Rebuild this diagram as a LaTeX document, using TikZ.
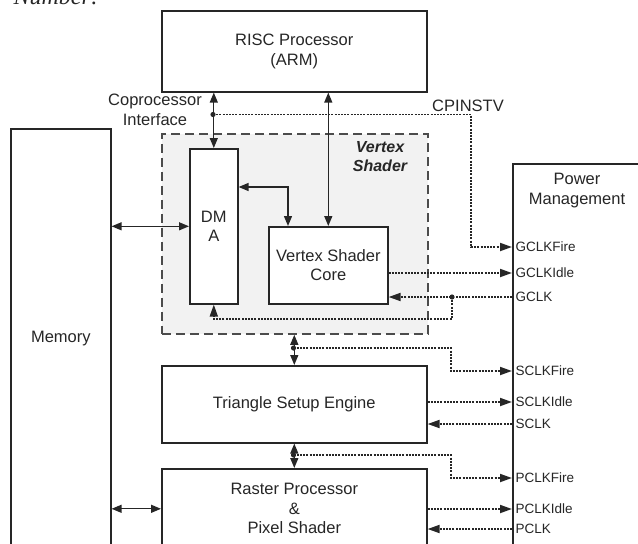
\documentclass[tikz,border=0pt]{standalone}
\usepackage{fontspec}
\setmainfont{Liberation Sans}
\newfontfamily\numfont{Liberation Serif}
\usetikzlibrary{arrows.meta}

\begin{document}
\begin{tikzpicture}[x=1pt,y=-1pt,
  font=\fontsize{16.5}{19.5}\selectfont, text=black!85,
  box/.style={draw=black!85, line width=1.6pt, fill=white, inner sep=0pt, anchor=north west, align=center},
  bus/.style={{Triangle[length=10pt,width=8pt]}-{Triangle[length=10pt,width=8pt]}, line width=1.3pt, draw=black!85},
  sig/.style={-{Triangle[length=12pt,width=8pt]}, line width=1.8pt, draw=black!85, dash pattern=on 2pt off 1.2pt},
  pin/.style={anchor=west, font=\fontsize{13.5}{16}\selectfont}]
\useasboundingbox (0,0) rectangle (638,544);

\node[anchor=base west, font=\numfont\itshape\fontsize{24}{24}\selectfont] (num) at (10,4) {Number:};

% blocks
\node[draw=black!70, line width=1.8pt, dash pattern=on 9pt off 5pt, fill=gray!10,
  minimum width=266, minimum height=200, anchor=north west] (vs) at (161,133) {};
\node[font=\fontsize{16}{19}\selectfont\bfseries\itshape, align=center] (vst) at (380,156.5) {Vertex\\Shader};
\node[box, minimum width=265, minimum height=81] (risc) at (161,10) {RISC Processor\\(ARM)};
\node[box, minimum width=100, minimum height=420] (mem) at (10,128) {Memory};
\node[box, minimum width=48, minimum height=155] (dma) at (189,148) {DM\\A};
\node[box, minimum width=119, minimum height=77] (core) at (268,226) {Vertex Shader\\Core};
\node[box, minimum width=265, minimum height=77] (tri) at (161,365) {Triangle Setup Engine};
\node[box, minimum width=265, minimum height=80] (ras) at (161,468) {Raster Processor\\\&\\Pixel Shader};
\node[box, minimum width=130, minimum height=400] (pm) at (512,163) {};
\node[align=center] (pmt) at (577,190.5) {Power\\Management};

\node[align=center] (cpi) at (155,110) {Coprocessor\\Interface};
\node (cpv) at (468,106) {CPINSTV};

% power management pins
\coordinate (gfire) at (512,247);
\coordinate (gidle) at (512,273);
\coordinate (gclk) at (512,297);
\coordinate (sfire) at (512,371);
\coordinate (sidle) at (512,402);
\coordinate (sclk) at (512,424);
\coordinate (pfire) at (512,478);
\coordinate (pidle) at (512,509);
\coordinate (pclk) at (512,529);
\node[pin] (gfirel) at (gfire) {GCLKFire};
\node[pin] (gidlel) at (gidle) {GCLKIdle};
\node[pin] (gclkl) at (gclk) {GCLK};
\node[pin] (sfirel) at (sfire) {SCLKFire};
\node[pin] (sidlel) at (sidle) {SCLKIdle};
\node[pin] (sclkl) at (sclk) {SCLK};
\node[pin] (pfirel) at (pfire) {PCLKFire};
\node[pin] (pidlel) at (pidle) {PCLKIdle};
\node[pin] (pclkl) at (pclk) {PCLK};

% data paths
\coordinate (dc) at (288,187);
\draw[bus] (dma.north |- risc.south) -- (dma.north);
\draw[bus] (core.north |- risc.south) -- (core.north);
\draw[bus] (dma.east |- dc) -| (core.north -| dc);
\draw[bus] (mem.east |- dma.west) -- (dma.west);
\draw[bus] (mem.east |- ras.west) -- (ras.west);
\draw[bus] (vs.south -| tri.north) -- (tri.north);
\draw[bus] (tri.south) -- (ras.north);

% clock control
\coordinate (cpdot) at (213,114.5);
\coordinate (cpbend) at (471,114.5);
\coordinate (gdot) at (452,297);
\coordinate (gret) at (452,319);
\coordinate (sdot) at (293.5,348);
\coordinate (sbend) at (451,348);
\coordinate (pdot) at (293.5,455);
\coordinate (pbend) at (451,455);
\draw[sig] (cpdot) -- (cpbend) |- (gfire);
\draw[sig] (core.east |- gidle) -- (gidle);
\draw[sig] (gclk) -- (core.east |- gclk);
\draw[sig] (gdot) -- (gret) -| (dma.south);
\draw[sig] (sdot) -- (sbend) |- (sfire);
\draw[sig] (tri.east |- sidle) -- (sidle);
\draw[sig] (sclk) -- (tri.east |- sclk);
\draw[sig] (pdot) -- (pbend) |- (pfire);
\draw[sig] (ras.east |- pidle) -- (pidle);
\draw[sig] (pclk) -- (ras.east |- pclk);
\foreach \d in {cpdot,gdot,sdot,pdot}
  \fill[black!85] (\d) circle (2.6);
\end{tikzpicture}
\end{document}
